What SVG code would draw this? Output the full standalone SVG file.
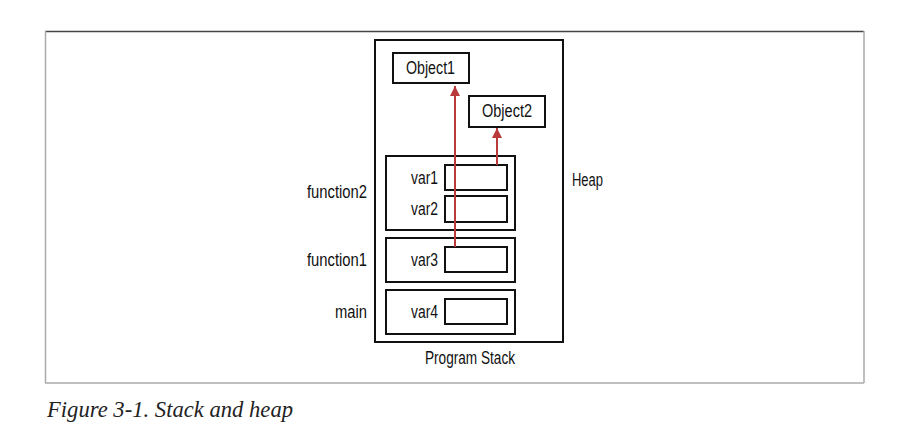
<svg xmlns="http://www.w3.org/2000/svg" width="920" height="442" viewBox="0 0 920 442">
<defs>
<style>
.box{fill:#fff;stroke:#111;stroke-width:2}
.lbl{font-family:"Liberation Sans",Arial,sans-serif;font-size:17.5px;fill:#111}
.ref{stroke:#b83a3a;stroke-width:2;fill:none}
</style>
<marker id="ah" viewBox="0 0 10 10" refX="10" refY="5" markerWidth="11" markerHeight="10" markerUnits="userSpaceOnUse" orient="auto">
<path d="M0,0 L10,5 L0,10 z" fill="#b83a3a"/>
</marker>
</defs>
<rect x="0" y="0" width="920" height="442" fill="#fff"/>
<g id="frame">
<line x1="45" y1="31.5" x2="864" y2="31.5" stroke="#444" stroke-width="1.5"/>
<line x1="45.5" y1="31" x2="45.5" y2="383" stroke="#aaa" stroke-width="1.5"/>
<line x1="864" y1="31" x2="864" y2="383" stroke="#aaa" stroke-width="1.5"/>
<line x1="45" y1="383" x2="864" y2="383" stroke="#aaa" stroke-width="1.5"/>
</g>
<g id="heap">
<rect class="box" x="375" y="40" width="188" height="302"/>
<text class="lbl" x="572" y="186" textLength="31" lengthAdjust="spacingAndGlyphs">Heap</text>
<text class="lbl" x="425" y="364" textLength="90" lengthAdjust="spacingAndGlyphs">Program Stack</text>
</g>
<g id="object1">
<rect class="box" x="393" y="53" width="76" height="30"/>
<text class="lbl" x="406" y="74" textLength="49" lengthAdjust="spacingAndGlyphs">Object1</text>
</g>
<g id="object2">
<rect class="box" x="469" y="96" width="76" height="31"/>
<text class="lbl" x="482" y="117" textLength="50" lengthAdjust="spacingAndGlyphs">Object2</text>
</g>
<g id="function2">
<rect class="box" x="386" y="156" width="129" height="74"/>
<text class="lbl" x="307" y="198" textLength="60" lengthAdjust="spacingAndGlyphs">function2</text>
<text class="lbl" x="411" y="184" textLength="27" lengthAdjust="spacingAndGlyphs">var1</text>
<rect class="box" x="445" y="165" width="62" height="25"/>
<text class="lbl" x="411" y="215" textLength="27" lengthAdjust="spacingAndGlyphs">var2</text>
<rect class="box" x="445" y="196" width="62" height="26"/>
</g>
<g id="function1">
<rect class="box" x="386" y="238" width="129" height="44"/>
<text class="lbl" x="307" y="266" textLength="60" lengthAdjust="spacingAndGlyphs">function1</text>
<text class="lbl" x="411" y="266" textLength="27" lengthAdjust="spacingAndGlyphs">var3</text>
<rect class="box" x="445" y="247" width="62" height="25"/>
</g>
<g id="main">
<rect class="box" x="386" y="290" width="129" height="44"/>
<text class="lbl" x="335" y="318" textLength="32" lengthAdjust="spacingAndGlyphs">main</text>
<text class="lbl" x="411" y="318" textLength="27" lengthAdjust="spacingAndGlyphs">var4</text>
<rect class="box" x="445" y="299" width="62" height="25"/>
</g>
<g id="connectors">
<line class="ref" x1="455" y1="247" x2="455" y2="86" marker-end="url(#ah)"/>
<line class="ref" x1="497" y1="165" x2="497" y2="128" marker-end="url(#ah)"/>
</g>
<text x="47" y="417" font-family="'Liberation Serif',serif" font-style="italic" font-size="23" fill="#222" textLength="246" lengthAdjust="spacingAndGlyphs">Figure 3-1. Stack and heap</text>
</svg>
